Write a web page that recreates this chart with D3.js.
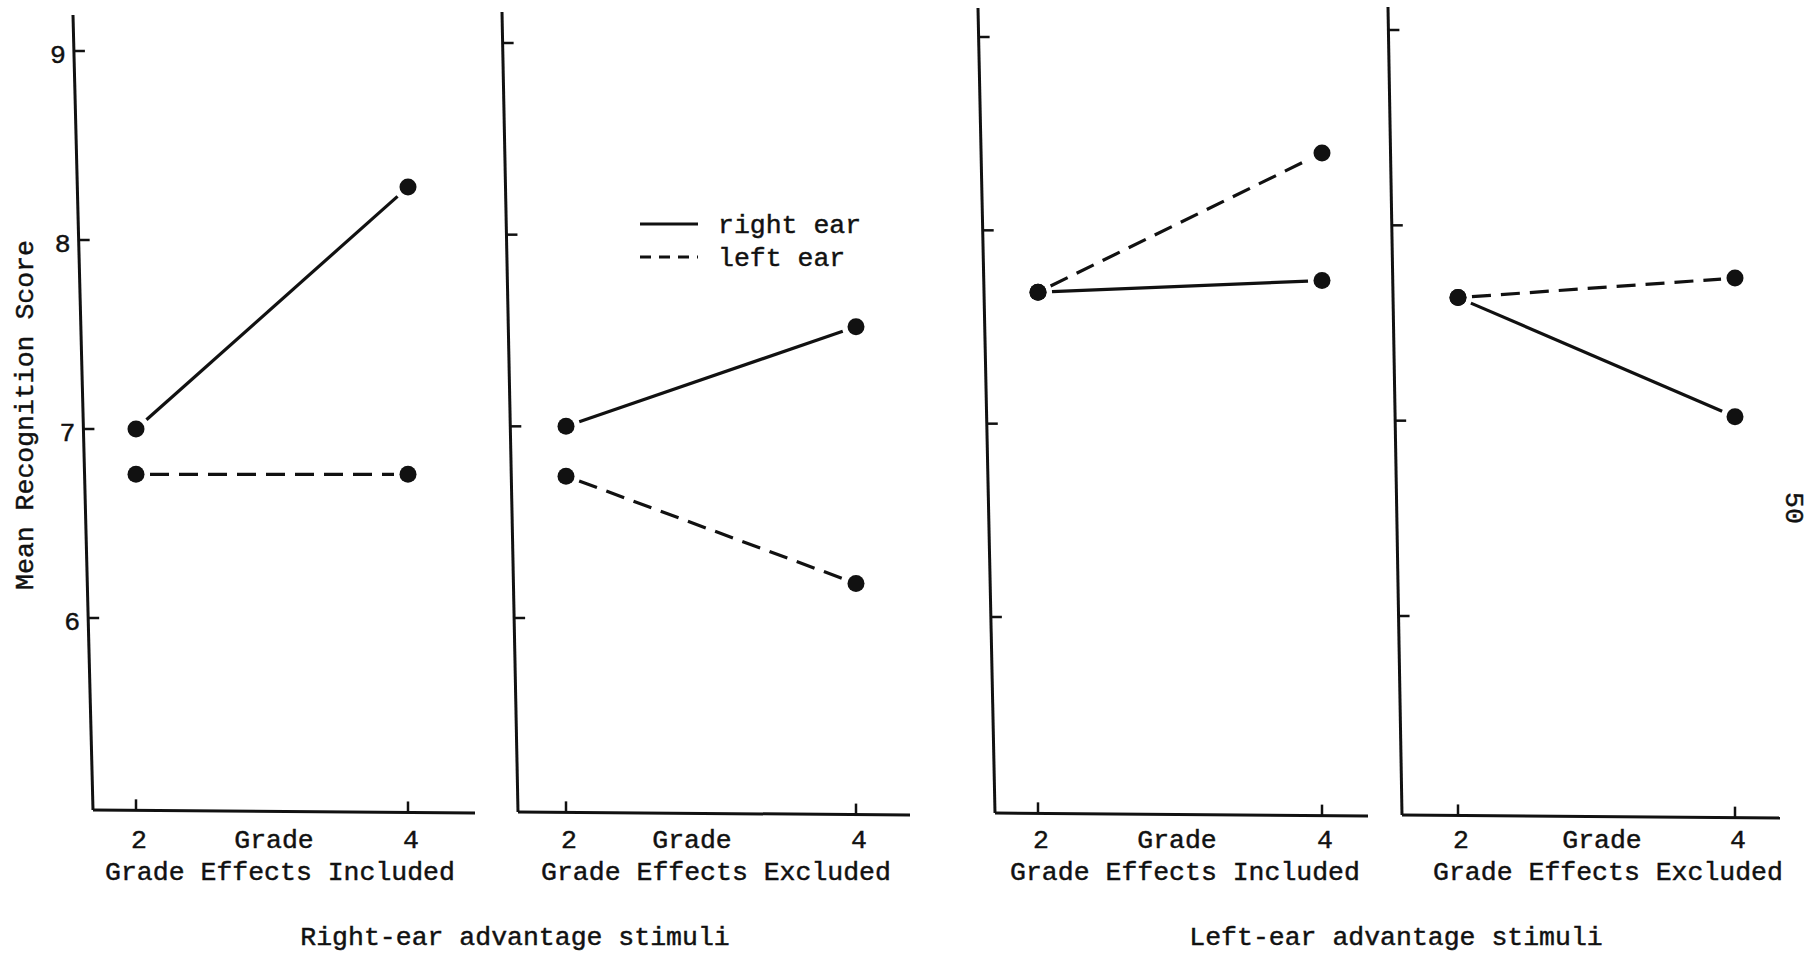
<!DOCTYPE html>
<html>
<head>
<meta charset="utf-8">
<script src="https://cdn.jsdelivr.net/npm/d3@7"></script>
<style>
  html, body { margin: 0; padding: 0; background: #fff; overflow: hidden; }
  svg { display: block; }
  text { font-family: "Liberation Mono", "DejaVu Sans Mono", monospace; fill: #111; stroke: #111; stroke-width: 0.45px; }
</style>
</head>
<body>
<svg id="chart" width="1810" height="955"></svg>
<script>
// Mean recognition score by grade, right ear vs left ear
const grades = [2, 4];
const yTickValues = [6, 7, 8, 9];
const panelLabels = ["Grade Effects Included", "Grade Effects Excluded",
                     "Grade Effects Included", "Grade Effects Excluded"];
const rightEar = [[7.0, 8.28], [7.0, 7.52], [7.68, 7.74], [7.63, 7.02]];
const leftEar  = [[6.76, 6.76], [6.74, 6.18], [7.68, 8.40], [7.63, 7.73]];
const seriesNames = ["right ear", "left ear"];
const groupTitles = ["Right-ear advantage stimuli", "Left-ear advantage stimuli"];
const yTitle = "Mean Recognition Score";
const pageNumber = "50";

// panel geometry: slightly leaning vertical axis, baseline, scale anchors
const layout = [
  { top: [73, 15],  bot: [93, 810],   xEnd: 475,  y6: 618, y9: 51, x2: 136,  x4: 408,  gradeX: 274,  subX: 280 },
  { top: [502, 12], bot: [518, 812],  xEnd: 910,  y6: 618, y9: 43, x2: 566,  x4: 856,  gradeX: 692,  subX: 716 },
  { top: [978, 8],  bot: [995, 813],  xEnd: 1368, y6: 617, y9: 37, x2: 1038, x4: 1322, gradeX: 1177, subX: 1185 },
  { top: [1388, 7], bot: [1402, 815], xEnd: 1780, y6: 616, y9: 30, x2: 1458, x4: 1735, gradeX: 1602, subX: 1608 }
];

const FS = 26.5;
const svg = d3.select("#chart");
const ink = "#111";

layout.forEach((p, i) => {
  const g = svg.append("g");
  const y = d3.scaleLinear().domain([6, 9]).range([p.y6, p.y9]);
  const x = d3.scaleLinear().domain(grades).range([p.x2, p.x4]);
  const axisX = yy => p.top[0] + (p.bot[0] - p.top[0]) * (yy - p.top[1]) / (p.bot[1] - p.top[1]);

  // vertical axis
  g.append("path")
    .attr("d", d3.line()([p.top, p.bot]))
    .attr("stroke", ink).attr("stroke-width", 3).attr("fill", "none");
  // baseline
  g.append("path")
    .attr("d", d3.line()([[p.bot[0], p.bot[1]], [p.xEnd, p.bot[1] + 3]]))
    .attr("stroke", ink).attr("stroke-width", 3).attr("fill", "none");

  // y ticks
  yTickValues.forEach(v => {
    const yy = y(v), xx = axisX(yy);
    g.append("line").attr("x1", xx).attr("x2", xx + 11).attr("y1", yy).attr("y2", yy)
      .attr("stroke", ink).attr("stroke-width", 2.5);
    if (i === 0) {
      g.append("text").attr("x", xx - 8).attr("y", yy + 12)
        .attr("text-anchor", "end").attr("font-size", FS).text(v);
    }
  });

  // x ticks and labels
  const baseY = t => p.bot[1] + 3 * (x(t) - p.bot[0]) / (p.xEnd - p.bot[0]);
  grades.forEach(t => {
    const by = baseY(t);
    g.append("line").attr("x1", x(t)).attr("x2", x(t)).attr("y1", by).attr("y2", by - 11)
      .attr("stroke", ink).attr("stroke-width", 2.5);
    g.append("text").attr("x", x(t) + 3).attr("y", 848)
      .attr("text-anchor", "middle").attr("font-size", FS).text(t);
  });
  g.append("text").attr("x", p.gradeX).attr("y", 848)
    .attr("text-anchor", "middle").attr("font-size", FS).text("Grade");
  g.append("text").attr("x", p.subX).attr("y", 880)
    .attr("text-anchor", "middle").attr("font-size", FS).text(panelLabels[i]);

  // series lines (stopping short of the markers) and markers
  const series = [
    { vals: rightEar[i], dash: null },
    { vals: leftEar[i], dash: "19,10" }
  ];
  series.forEach(s => {
    const a = [x(grades[0]), y(s.vals[0])];
    const b = [x(grades[1]), y(s.vals[1])];
    const dx = b[0] - a[0], dy = b[1] - a[1], len = Math.hypot(dx, dy);
    const gap = 14;
    const a2 = [a[0] + dx * gap / len, a[1] + dy * gap / len];
    const b2 = [b[0] - dx * gap / len, b[1] - dy * gap / len];
    g.append("path").attr("d", d3.line()([a2, b2]))
      .attr("stroke", ink).attr("stroke-width", 3.2).attr("fill", "none")
      .attr("stroke-dasharray", s.dash);
    g.selectAll(null).data(s.vals).join("circle")
      .attr("cx", (d, k) => x(grades[k])).attr("cy", d => y(d))
      .attr("r", 8.5).attr("fill", ink);
  });
});

// legend inside the second panel
const leg = svg.append("g");
[0, 1].forEach(k => {
  const ly = 224 + k * 33;
  leg.append("line").attr("x1", 640).attr("x2", 698).attr("y1", ly).attr("y2", ly)
    .attr("stroke", ink).attr("stroke-width", 3)
    .attr("stroke-dasharray", k === 1 ? "11,8" : null);
  leg.append("text").attr("x", 718).attr("y", ly + 9).attr("font-size", FS).text(seriesNames[k]);
});

// y-axis title
svg.append("text")
  .attr("transform", "translate(33,415) rotate(-90)")
  .attr("text-anchor", "middle").attr("font-size", FS).text(yTitle);

// group titles
svg.append("text").attr("x", 515).attr("y", 945)
  .attr("text-anchor", "middle").attr("font-size", FS).text(groupTitles[0]);
svg.append("text").attr("x", 1396).attr("y", 945)
  .attr("text-anchor", "middle").attr("font-size", FS).text(groupTitles[1]);

// page number at the right margin
svg.append("text")
  .attr("transform", "translate(1786,508) rotate(90)")
  .attr("text-anchor", "middle").attr("font-size", FS).text(pageNumber);
</script>
</body>
</html>
